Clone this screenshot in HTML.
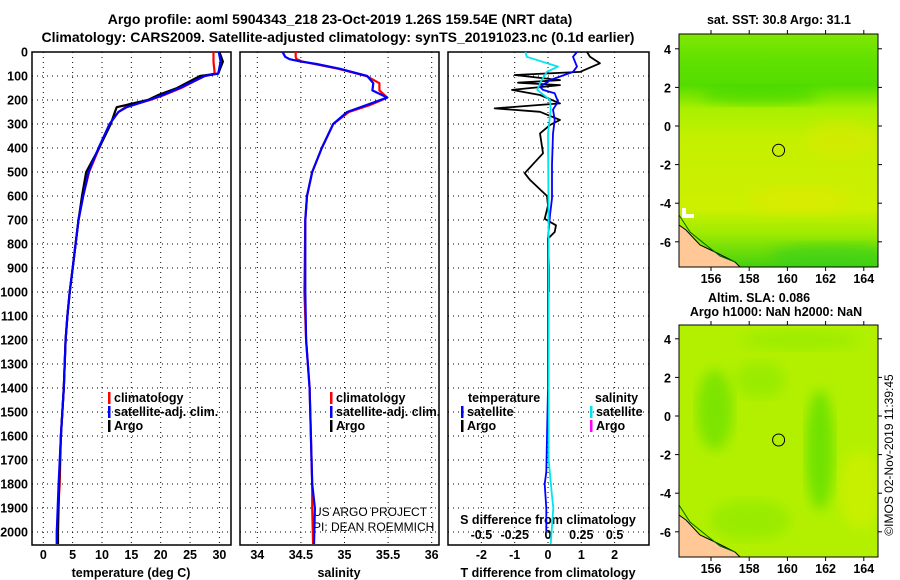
<!DOCTYPE html>
<html><head><meta charset="utf-8"><style>
body{margin:0;background:#fff;}
svg{display:block;font-family:"Liberation Sans",sans-serif;}
.t{font-weight:bold;font-size:12.5px;fill:#000;}
.h{font-weight:bold;font-size:14px;fill:#000;}
.thin{font-size:12px;fill:#000;}
</style></head><body>
<svg id="fig" width="900" height="580" viewBox="0 0 900 580">
<defs>
<linearGradient id="sstg" x1="0" y1="0" x2="0" y2="1">
<stop offset="0" stop-color="#80e800"/><stop offset="0.12" stop-color="#5fe000"/><stop offset="0.22" stop-color="#55dd00"/><stop offset="0.32" stop-color="#a8f000"/><stop offset="0.45" stop-color="#c4f000"/><stop offset="0.75" stop-color="#ccf000"/><stop offset="0.85" stop-color="#a0ec00"/><stop offset="1" stop-color="#44d010"/>
</linearGradient>
<filter id="bl"><feGaussianBlur stdDeviation="6"/></filter>
<clipPath id="c1"><rect x="679" y="34" width="199" height="233"/></clipPath>
<clipPath id="c2"><rect x="679" y="325" width="199" height="232"/></clipPath>
</defs>
<text class="h" x="340" y="24" text-anchor="middle">Argo profile: aoml 5904343_218 23-Oct-2019 1.26S 159.54E (NRT data)</text>
<text class="h" x="338" y="42" text-anchor="middle">Climatology: CARS2009. Satellite-adjusted climatology: synTS_20191023.nc (0.1d earlier)</text>
<g id="plots"></g>

<g>
<g clip-path="url(#c1)">
<rect x="679" y="34" width="199" height="233" fill="url(#sstg)"/>
<ellipse cx="760" cy="95" rx="60" ry="10" fill="#33d400" opacity="0.5" filter="url(#bl)"/>
<ellipse cx="800" cy="200" rx="50" ry="14" fill="#e0e800" opacity="0.6" filter="url(#bl)"/>
<ellipse cx="840" cy="140" rx="35" ry="20" fill="#dde800" opacity="0.5" filter="url(#bl)"/>
<ellipse cx="830" cy="255" rx="60" ry="12" fill="#22cc22" opacity="0.4" filter="url(#bl)"/>
<path d="M679,225 L686,230 L700,245 L715,252 L735,262 L740,267 L679,267Z" fill="#ffc896" stroke="#000" stroke-width="1"/>
<path d="M679,215 L690,232 L706,245 L720,256 L735,262" fill="none" stroke="#006600" stroke-width="1"/>
<path d="M684,208 L684,216 L694,216" fill="none" stroke="#fff" stroke-width="4"/>
</g>
<rect x="679" y="34" width="199" height="233" fill="none" stroke="#000"/>
<circle cx="778.6" cy="150.3" r="6" fill="none" stroke="#000"/>
<text class="t" x="779" y="24" text-anchor="middle">sat. SST: 30.8 Argo: 31.1</text>
</g>
<g>
<g clip-path="url(#c2)">
<rect x="679" y="325" width="199" height="232" fill="#b2f000"/>
<ellipse cx="715" cy="410" rx="18" ry="40" fill="#66e000" opacity="0.7" filter="url(#bl)"/>
<ellipse cx="820" cy="450" rx="14" ry="60" fill="#55dd00" opacity="0.7" filter="url(#bl)"/>
<ellipse cx="760" cy="380" rx="25" ry="18" fill="#8ae800" opacity="0.6" filter="url(#bl)"/>
<ellipse cx="750" cy="520" rx="40" ry="20" fill="#8ae800" opacity="0.6" filter="url(#bl)"/>
<ellipse cx="860" cy="490" rx="20" ry="40" fill="#d0f000" opacity="0.7" filter="url(#bl)"/>
<ellipse cx="800" cy="340" rx="60" ry="10" fill="#8ae800" opacity="0.5" filter="url(#bl)"/>
<path d="M679,515 L686,520 L700,535 L715,542 L735,552 L740,557 L679,557Z" fill="#ffc896" stroke="#000" stroke-width="1"/>
<path d="M679,505 L690,522 L706,535 L720,546 L735,552" fill="none" stroke="#006600" stroke-width="1"/>
</g>
<rect x="679" y="325" width="199" height="232" fill="none" stroke="#000"/>
<circle cx="778.6" cy="440" r="6" fill="none" stroke="#000"/>
<text class="t" x="759" y="302" text-anchor="middle">Altim. SLA: 0.086</text>
<text class="t" x="776" y="316" text-anchor="middle">Argo h1000: NaN h2000: NaN</text>
</g>
<text class="thin" transform="translate(893,455) rotate(-90)" text-anchor="middle">©IMOS 02-Nov-2019 11:39:45</text>
</svg>
<script>
const depthT=[0,40,90,100,150,180,200,230,250,300,400,500,600,700,800,900,1000,1100,1200,1400,1600,1800,2000,2050];
const argoT=[30.0,30.6,29.8,26.7,22.8,19.5,17.8,12.5,12.2,11.5,9.5,7.3,6.6,6.0,5.5,5.0,4.5,4.1,3.8,3.5,3.0,2.7,2.5,2.5];
const climT=[29.0,29.0,29.2,27.5,23.5,20.5,18.2,14.0,12.8,11.3,9.5,7.8,6.8,6.0,5.5,5.0,4.5,4.1,3.8,3.5,3.0,2.8,2.3,2.3];
const satT=[29.9,30.2,29.8,27.5,23.2,20.3,18.0,14.2,12.8,11.3,9.4,7.7,6.8,6.0,5.5,5.0,4.5,4.1,3.8,3.5,3.0,2.6,2.3,2.3];
const depthS=[0,20,30,40,50,70,100,130,160,190,220,250,300,400,500,600,700,1000,1200,1400,1800,1900,2050];
const satS=[34.29,34.32,34.37,34.5,34.68,34.95,35.26,35.33,35.32,35.49,35.26,35.03,34.87,34.74,34.63,34.57,34.55,34.55,34.56,34.6,34.63,34.66,34.65];
const climS=[34.44,34.44,34.45,34.52,34.66,34.93,35.25,35.4,35.4,35.49,35.3,35.05,34.87,34.74,34.63,34.57,34.55,34.54,34.56,34.6,34.63,34.63,34.64];
const depthDA=[0,20,47,83,96,117,128,138,158,179,214,235,249,283,304,339,422,505,533,600,640,695,722,750,778,900,1000];
const argoDT=[1.17,1.26,1.56,0.96,-1.0,0.36,-0.9,0.36,-1.08,-0.24,0.36,-1.6,-0.24,0.36,0.06,-0.24,-0.15,-0.7,-0.54,-0.03,0,-0.1,0.24,0.2,0,0.03,0.03];
const depthDB=[0,20,61,83,117,145,158,172,207,240,283,340,470,610,680,780,1400,1750,1800,1900,2000];
const satDT=[0.87,0.75,0.87,0.75,0.06,-0.24,-0.15,0.2,0.3,0.15,0.2,0.15,0.12,0.12,0.06,0,0,-0.05,-0.1,-0.05,-0.05];
const depthDC=[0,20,61,83,130,158,200,240,340,800,1700,1850,1900,2050];
const satDS=[-0.17,-0.16,0.075,-0.01,-0.06,-0.08,0.015,0.02,0,0.005,0.005,0.03,0.04,0.02];
const depthTicks=[0,100,200,300,400,500,600,700,800,900,1000,1100,1200,1300,1400,1500,1600,1700,1800,1900,2000];
const tTicks=[0,5,10,15,20,25,30];
const sTicks=[34,34.5,35,35.5,36];
const sTickLabels=['34','34.5','35','35.5','36'];
const dTicks=[-2,-1,0,1,2];
const dsTicks=[-0.5,-0.25,0,0.25,0.5];
const dsTickLabels=['-0.5','-0.25','0','0.25','0.5'];
const latTicks=[4,2,0,-2,-4,-6];
const lonTicks=[156,158,160,162,164];

const TOP=52,BOT=545;
const yD=d=>TOP+d*0.24;
const xT=t=>43.3+t*5.87;
const xS=s=>257.3+(s-34)*87.2;
const xD=v=>548+v*33.3;
const xDS=v=>548+v*133.2;
const NS='http://www.w3.org/2000/svg';
const g=document.getElementById('plots');
function el(tag,attrs,parent){const e=document.createElementNS(NS,tag);for(const k in attrs)e.setAttribute(k,attrs[k]);(parent||g).appendChild(e);return e;}
function txt(x,y,s,cls,anchor,parent){const e=el('text',{x:x,y:y,class:cls,'text-anchor':anchor||'start'},parent);e.textContent=s;return e;}

const panels=[{x0:32,x1:231,name:'temperature-panel'},{x0:240,x1:439,name:'salinity-panel'},{x0:448,x1:649,name:'difference-panel'}];
panels.forEach((p,i)=>{
  const r=el('rect',{x:p.x0,y:TOP,width:p.x1-p.x0,height:BOT-TOP,fill:'none',stroke:'#000','stroke-width':1.5});
  
  
  depthTicks.forEach(d=>{el('line',{x1:p.x0,x2:p.x1,y1:yD(d),y2:yD(d),stroke:'#000','stroke-dasharray':'1,4'});});
});
depthTicks.forEach(d=>{const t=txt(28,yD(d)+4.5,String(d),'t','end');
  
  });
function vgrid(vals,f){vals.forEach(v=>el('line',{x1:f(v),x2:f(v),y1:TOP,y2:BOT,stroke:'#000','stroke-dasharray':'1,4'}));}
vgrid(tTicks,xT);vgrid(sTicks,xS);vgrid(dTicks,xD);
tTicks.forEach(v=>{const t=txt(xT(v),559,String(v),'t','middle');});
sTicks.forEach((v,i)=>{const t=txt(xS(v),559,sTickLabels[i],'t','middle');});
dTicks.forEach(v=>{const t=txt(xD(v),559,String(v),'t','middle');});
dsTicks.forEach((v,i)=>{const t=txt(xDS(v),539,dsTickLabels[i],'t','middle');});
let a;
a=txt(131,577,'temperature (deg C)','t','middle');
a=txt(339,577,'salinity','t','middle');
a=txt(548,577,'T difference from climatology','t','middle');
a=txt(548,524,'S difference from climatology','t','middle');
a=txt(313,516,'US ARGO PROJECT','thin');
a=txt(313,531,'PI: DEAN ROEMMICH','thin');

function line(xs,ds,fx,color,name,w){
  const pts=xs.map((v,i)=>fx(v).toFixed(1)+','+yD(ds[i]).toFixed(1)).join(' ');
  const l=el('polyline',{points:pts,fill:'none',stroke:color,'stroke-width':w||2.2,'stroke-linejoin':'round'});
  
  
}
line(climT,depthT,xT,'#ff0000','temperature-climatology-line');
line(argoT,depthT,xT,'#000000','temperature-argo-line');
line(satT,depthT,xT,'#0000ff','temperature-satellite-line');
line(climS,depthS,xS,'#ff0000','salinity-climatology-line');
line(satS,depthS,xS,'#0000ff','salinity-satellite-line');
line(argoDT,depthDA,xD,'#000000','t-diff-argo-line',1.8);
line(satDT,depthDB,xD,'#0000ff','t-diff-satellite-line',1.8);
line(satDS,depthDC,xDS,'#00e5ee','s-diff-satellite-line',1.8);

function legend(x,y,color,label,name){
  el('rect',{x:x,y:y-10,width:2.5,height:12,fill:color});
  const t=txt(x+6,y,label,'t');
  
  
}
legend(108,402,'#ff0000','climatology','legend-climatology');
legend(108,416,'#0000ff','satellite-adj. clim.','legend-satellite-adj');
legend(108,430,'#000','Argo','legend-argo');
legend(330,402,'#ff0000','climatology','legend-sal-climatology');
legend(330,416,'#0000ff','satellite-adj. clim.','legend-sal-satellite-adj');
legend(330,430,'#000','Argo','legend-sal-argo');
a=txt(468,402,'temperature','t');
a=txt(595,402,'salinity','t');
legend(461,416,'#0000ff','satellite','legend-t-satellite');
legend(461,430,'#000','Argo','legend-t-argo');
legend(590,416,'#00e5ee','satellite','legend-s-satellite');
legend(590,430,'#ff00ff','Argo','legend-s-argo');

const svg=document.getElementById('fig');
[{y0:34,y1:267,lat0:126},{y0:325,y1:557,lat0:416}].forEach((m,mi)=>{
  latTicks.forEach(v=>{const y=m.lat0-v*19.3;
    el('line',{x1:675,x2:679,y1:y,y2:y,stroke:'#000'},svg);
    el('line',{x1:878,x2:882,y1:y,y2:y,stroke:'#000'},svg);
    const t=txt(671,y+5,String(v),'t','end',svg);
    
    });
  lonTicks.forEach(v=>{const x=711+(v-156)*19.1;
    el('line',{x1:x,x2:x,y1:m.y0-4,y2:m.y0,stroke:'#000'},svg);
    el('line',{x1:x,x2:x,y1:m.y1,y2:m.y1+4,stroke:'#000'},svg);
    const t=txt(x,m.y1+16,String(v),'t','middle',svg);
    
    });
});
</script>
</body></html>
